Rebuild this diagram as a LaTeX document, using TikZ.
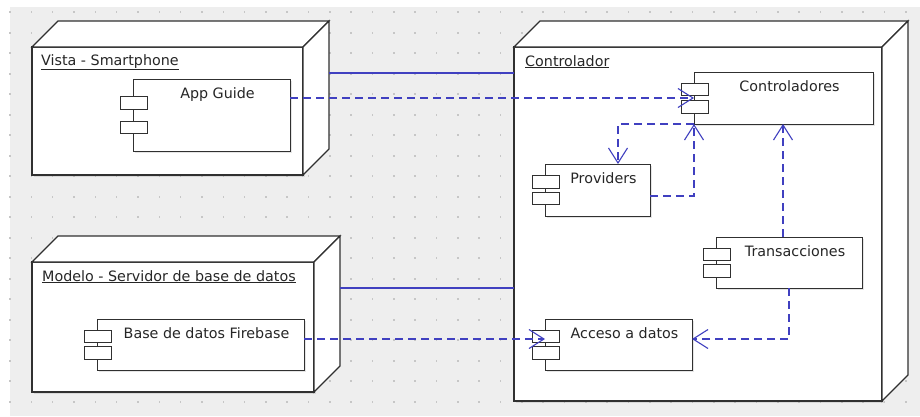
\documentclass[tikz,border=0pt]{standalone}
\usepackage{fontspec}
\setmainfont{DejaVu Sans}
\usetikzlibrary{arrows.meta,shadows}

\definecolor{fondo}{HTML}{EEEEEE}
\definecolor{puntos}{HTML}{C6C6C6}
\definecolor{azulenlace}{HTML}{4040C0}
\definecolor{borde}{HTML}{303030}

\tikzset{
  nodo/.style={draw=borde, line width=1.1pt, fill=white, inner sep=0pt, outer sep=0pt, anchor=north west,
    drop shadow={opacity=0.2, shadow xshift=1.5pt, shadow yshift=-1.5pt}},
  cara/.style={draw=borde, line width=1.1pt, fill=white, line join=miter},
  comp/.style={draw=borde, line width=1pt, fill=white, inner sep=0pt, outer sep=0pt, anchor=north west,
    drop shadow={opacity=0.2, shadow xshift=1.5pt, shadow yshift=-1.5pt}},
  pestana/.style={draw=borde, line width=1pt, fill=white},
  titulo/.style={anchor=base west, inner sep=0pt, text=black!85, font=\fontsize{14.3}{17}\selectfont},
  textocomp/.style={anchor=base, inner sep=0pt, text=black!85, font=\fontsize{14.3}{17}\selectfont},
  conexion/.style={draw=azulenlace, line width=1.1pt},
  dep/.style={draw=azulenlace, line width=1.1pt, dash pattern=on 8pt off 5pt,
    -{Straight Barb[length=15pt,width=19pt]}}
}

% caras superior y lateral de un nodo 3D
\newcommand{\caras}[1]{%
  \draw[cara] (#1.north west) -- ++(26,-26) -- ([shift={(26,-26)}]#1.north east) -- (#1.north east) -- cycle;
  \draw[cara] (#1.north east) -- ++(26,-26) -- ([shift={(26,-26)}]#1.south east) -- (#1.south east) -- cycle;}
% las dos pestanas de un componente
\newcommand{\pestanas}[2]{%
  \draw[pestana] ([shift={(-13,-#2-12.5)}]#1.west) rectangle ([shift={(14,-#2)}]#1.west);
  \draw[pestana] ([shift={(-13,#2)}]#1.west) rectangle ([shift={(14,#2+12.5)}]#1.west);}

\begin{document}
\begin{tikzpicture}[x=1pt, y=-1pt]
  \useasboundingbox (0,0) rectangle (920,416);
  \fill[white] (0,0) rectangle (920,416);
  \fill[fondo] (10,7) rectangle (920,416);
  \foreach \i in {0,...,42}
    \foreach \j in {0,...,19}
      \fill[puntos] (9.2+21.33*\i,11.4+20.5*\j) rectangle ++(1.6,1.6);

  % nodos
  \node[nodo, minimum width=271pt, minimum height=128pt] (vista) at (32,47) {};
  \caras{vista}
  \node[nodo, minimum width=282pt, minimum height=130pt] (modelo) at (32,262) {};
  \caras{modelo}
  \node[nodo, minimum width=368pt, minimum height=354pt] (controlador) at (514,47) {};
  \caras{controlador}

  \node[titulo] (vistaT) at ([shift={(9,18)}]vista.north west) {\underline{Vista - Smartphone}};
  \node[titulo] (modeloT) at ([shift={(10,19)}]modelo.north west) {\underline{Modelo - Servidor de base de datos}};
  \node[titulo] (controladorT) at ([shift={(11,19)}]controlador.north west) {\underline{Controlador}};

  % componentes
  \node[comp, minimum width=157pt, minimum height=72pt] (appguide) at (133,79) {};
  \pestanas{appguide}{6}
  \node[comp, minimum width=179pt, minimum height=52pt] (controladores) at (694,72) {};
  \pestanas{controladores}{2.5}
  \node[comp, minimum width=105pt, minimum height=52pt] (providers) at (545,164) {};
  \pestanas{providers}{2}
  \node[comp, minimum width=146pt, minimum height=51pt] (transacciones) at (716,237) {};
  \pestanas{transacciones}{2}
  \node[comp, minimum width=147pt, minimum height=51pt] (acceso) at (545,319) {};
  \pestanas{acceso}{2}
  \node[comp, minimum width=207pt, minimum height=51pt] (firebase) at (97,319) {};
  \pestanas{firebase}{2}

  \node[textocomp] (appguideT) at ([shift={(6,19)}]appguide.north) {App Guide};
  \node[textocomp] (controladoresT) at ([shift={(6,19)}]controladores.north) {Controladores};
  \node[textocomp] (providersT) at ([shift={(6,19)}]providers.north) {Providers};
  \node[textocomp] (transaccionesT) at ([shift={(6,19)}]transacciones.north) {Transacciones};
  \node[textocomp] (accesoT) at ([shift={(6,19)}]acceso.north) {Acceso a datos};
  \node[textocomp] (firebaseT) at ([shift={(6,19)}]firebase.north) {Base de datos Firebase};

  % conexiones
  \coordinate (vistaP) at ([shift={(26,26)}]vista.north east);
  \coordinate (modeloP) at ([shift={(26,26)}]modelo.north east);
  \coordinate (controladoresS) at ([shift={(-0.5,0)}]controladores.south);
  \draw[conexion] (vistaP) -- (vistaP -| controlador.west);
  \draw[conexion] (modeloP) -- (modeloP -| controlador.west);

  \draw[dep] (appguide.east |- controladores.west) -- (controladores.west);
  \draw[dep] (controladores.south west) -| ([shift={(20.5,0)}]providers.north);
  \draw[dep] ([shift={(0,6)}]providers.east) -| (controladores.south west);
  \draw[dep] (transacciones.north -| controladoresS) -- (controladoresS);
  \draw[dep] (transacciones.south) |- ([shift={(0,-5.5)}]acceso.east);
  \draw[dep] ([shift={(0,-5.5)}]firebase.east) -- ([shift={(0,-5.5)}]acceso.west);
\end{tikzpicture}
\end{document}
